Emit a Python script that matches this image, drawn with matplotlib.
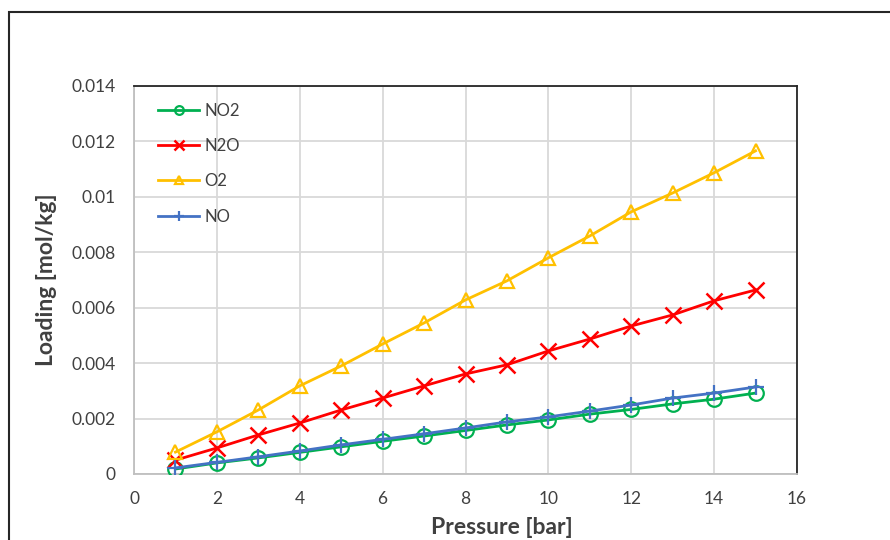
import matplotlib
matplotlib.use("Agg")
import matplotlib.pyplot as plt
from matplotlib.patches import Rectangle

plt.rcParams['font.family'] = ['Lato', 'DejaVu Sans']

pressure = [1, 2, 3, 4, 5, 6, 7, 8, 9, 10, 11, 12, 13, 14, 15]
no2 = [0.00018, 0.00040, 0.00058, 0.00078, 0.00098, 0.00118, 0.00137, 0.00157,
       0.00177, 0.00195, 0.00216, 0.00233, 0.00253, 0.00270, 0.00292]
n2o = [0.00050, 0.00094, 0.00141, 0.00184, 0.00231, 0.00274, 0.00318, 0.00361,
       0.00394, 0.00444, 0.00487, 0.00534, 0.00574, 0.00625, 0.00664]
o2 = [0.00079, 0.00152, 0.00231, 0.00318, 0.00390, 0.00469, 0.00545, 0.00628,
      0.00697, 0.00780, 0.00859, 0.00946, 0.01014, 0.01087, 0.01166]
no = [0.00022, 0.00042, 0.00062, 0.00083, 0.00105, 0.00125, 0.00145, 0.00166,
      0.00188, 0.00206, 0.00227, 0.00249, 0.00274, 0.00292, 0.00314]

xticks = [0, 2, 4, 6, 8, 10, 12, 14, 16]
yticks = [0, 0.002, 0.004, 0.006, 0.008, 0.010, 0.012, 0.014]
ytick_labels = ["0", "0.002", "0.004", "0.006", "0.008", "0.01", "0.012", "0.014"]

W, H = 890, 540
fig = plt.figure(figsize=(W / 100, H / 100), dpi=100)

# outer chart border
fig.patches.append(Rectangle((9 / W, -0.1), 1.2, 1 - 12 / H + 0.1,
                             transform=fig.transFigure, fill=False,
                             edgecolor='#262626', linewidth=1.5))

ax_l, ax_r, ax_t, ax_b = 134, 797, 86, 474
ax_w, ax_h = ax_r - ax_l, ax_b - ax_t
ax = fig.add_axes([ax_l / W, 1 - ax_b / H, ax_w / W, ax_h / H])

lw = 2.0
ax.plot(pressure, no2, color='#00B050', lw=lw, marker='o', ms=10.5,
        mfc='none', mew=1.6, label='NO2', zorder=3)
ax.plot(pressure, n2o, color='#FF0000', lw=lw, marker='x', ms=11,
        mew=1.8, label='N2O', zorder=3)
ax.plot(pressure, o2, color='#FFC000', lw=lw, marker='^', ms=10.5,
        mfc='none', mew=1.6, label='O2', zorder=3)
ax.plot(pressure, no, color='#4472C4', lw=lw, marker='+', ms=11,
        mew=1.6, label='NO', zorder=3)

ax.set_xlim(0, 16)
ax.set_ylim(0, 0.014)
ax.set_xticks(xticks)
ax.set_yticks(yticks)
ax.set_yticklabels(ytick_labels)
ax.tick_params(length=0, labelsize=12.5, labelcolor='#404040')
ax.tick_params(axis='x', pad=12)
ax.tick_params(axis='y', pad=13.5)
ax.grid(True, color='#D9D9D9', lw=1.3, zorder=0)
ax.set_axisbelow(True)

for s in ['left', 'bottom']:
    ax.spines[s].set_color('#BFBFBF')
    ax.spines[s].set_linewidth(1.3)
for s in ['top', 'right']:
    ax.spines[s].set_color('#262626')
    ax.spines[s].set_linewidth(1.3)

ax.set_xlabel('Pressure [bar]', fontsize=16.5, fontweight='bold', color='#404040')
ax.set_ylabel('Loading [mol/kg]', fontsize=16.5, fontweight='bold', color='#404040')
ax.xaxis.set_label_coords((502 - ax_l) / ax_w, -(517 - ax_b) / ax_h)
ax.yaxis.set_label_coords(-(ax_l - 57) / ax_w, 0.5)

leg = ax.legend(loc='upper left', bbox_to_anchor=(17 / ax_w, 1 - 10 / ax_h),
                frameon=False, fontsize=12, markerscale=0.6,
                handlelength=2.5, labelspacing=1.16, borderaxespad=0,
                handletextpad=0.3)
for t in leg.get_texts():
    t.set_color('#404040')

fig.savefig('out.png', dpi=100)
